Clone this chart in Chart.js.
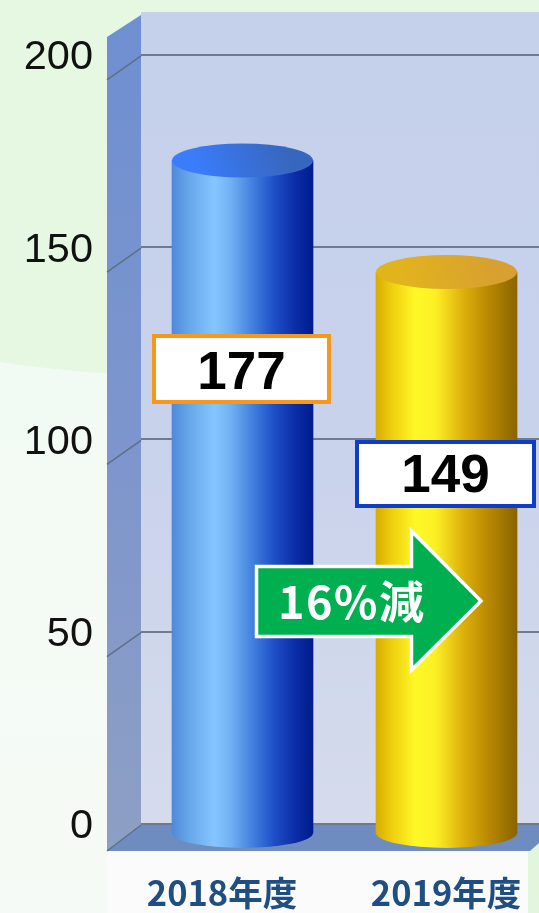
<!DOCTYPE html>
<html lang="ja"><head><meta charset="utf-8">
<style>html,body{margin:0;padding:0;background:#fff;overflow:hidden}canvas{display:block}</style>
<script src="https://cdn.jsdelivr.net/npm/chart.js@4"></script>
</head><body><canvas id="c" width="539" height="913"></canvas>
<script>
const categories = ['2018年度', '2019年度'];
const values = [177, 149];
const yTicks = [0, 50, 100, 150, 200];
const changeLabel = '16%減';

const bodyStops = [
  [[0,'#4F8ADA'],[.12,'#66A6EA'],[.30,'#85C6FF'],[.42,'#70B0F2'],[.58,'#3F7EDC'],[.72,'#1E50C8'],[.88,'#0A2CA6'],[1,'#001C8C']],
  [[0,'#D8AC00'],[.12,'#F0D010'],[.28,'#FFF828'],[.42,'#FCF025'],[.62,'#DDB00C'],[.78,'#BC8C00'],[1,'#8A6400']]
];
const capStops = [['#3A7CFA','#3766BE'],['#E2B41C','#D8A030']];
const boxBorders = ['#F7981D','#0F3CC9'];

function hGrad(ctx,x0,x1,stops){const g=ctx.createLinearGradient(x0,0,x1,0);stops.forEach(s=>g.addColorStop(s[0],s[1]));return g;}
function noPad(s){s.paddingTop=0;s.paddingBottom=0;s.paddingLeft=0;s.paddingRight=0;}

const scene = {
  id:'scene',
  beforeDraw(chart){
    const {ctx,chartArea:a,width:W,height:H}=chart;
    ctx.save();
    ctx.fillStyle='#E6F7E2';ctx.fillRect(0,0,W,H);
    let g=ctx.createLinearGradient(0,362,0,H);
    g.addColorStop(0,'#F2FBF3');g.addColorStop(1,'#F6FAF6');
    ctx.fillStyle=g;
    ctx.beginPath();ctx.moveTo(0,362);ctx.bezierCurveTo(40,368,80,372,120,374);ctx.lineTo(120,H);ctx.lineTo(0,H);ctx.closePath();ctx.fill();
    ctx.fillStyle='#FBFBFB';ctx.fillRect(107,851,423,62);
    ctx.fillStyle='#E2F6DE';ctx.fillRect(528,845,11,68);
    g=ctx.createLinearGradient(0,a.top,0,a.bottom);
    g.addColorStop(0,'#C5D0EB');g.addColorStop(.5,'#C8D2EB');g.addColorStop(1,'#D6DCEC');
    const floorY=chart.scales.y.getPixelForValue(0);
    ctx.fillStyle=g;ctx.fillRect(a.left,a.top-1,a.right-a.left,floorY-a.top+1);
    g=ctx.createLinearGradient(0,a.top,0,a.bottom);
    g.addColorStop(0,'#6E8FD2');g.addColorStop(.55,'#7E96CC');g.addColorStop(1,'#8E9FC4');
    ctx.fillStyle=g;ctx.beginPath();
    ctx.moveTo(107,37);ctx.lineTo(a.left,a.top+2);ctx.lineTo(a.left,floorY);ctx.lineTo(107,a.bottom);ctx.closePath();ctx.fill();
    ctx.fillStyle='#6E8CC0';ctx.beginPath();
    ctx.moveTo(a.left,floorY);ctx.lineTo(539,floorY);ctx.lineTo(539,843);ctx.lineTo(530,a.bottom);ctx.lineTo(107,a.bottom);ctx.closePath();ctx.fill();
    ctx.strokeStyle='#5F6F88';ctx.lineWidth=1.5;
    yTicks.forEach(v=>{const y=chart.scales.y.getPixelForValue(v);
      ctx.beginPath();ctx.moveTo(a.left,y+1);ctx.lineTo(107,y+(v===0?27:25));ctx.stroke();});
    ctx.restore();
  },
  afterDatasetsDraw(chart){
    const {ctx}=chart;
    const bars=chart.getDatasetMeta(0).data;
    ctx.save();
    bars.forEach((b,i)=>{
      const x0=b.x-b.width/2,x1=b.x+b.width/2,rx=b.width/2;
      ctx.fillStyle=hGrad(ctx,x0,x1,bodyStops[i]);
      ctx.beginPath();ctx.ellipse(b.x,b.base,rx,15,0,0,Math.PI);ctx.fill();
      const g=ctx.createLinearGradient(x0+rx*.4,b.y+16,x1-rx*.4,b.y-16);
      g.addColorStop(0,capStops[i][0]);g.addColorStop(1,capStops[i][1]);
      ctx.fillStyle=g;
      ctx.beginPath();ctx.ellipse(b.x,b.y,rx,17,0,0,Math.PI*2);ctx.fill();
    });
    const boxes=[[154,336,175,66,5],[357,442,177,64,3]];
    bars.forEach((b,i)=>{
      const [bx,by,bw,bh,dy]=boxes[i];
      ctx.fillStyle='#fff';ctx.fillRect(bx,by,bw,bh);
      ctx.strokeStyle=boxBorders[i];ctx.lineWidth=4;ctx.strokeRect(bx,by,bw,bh);
      ctx.fillStyle='#000';ctx.font='bold 53px "Liberation Sans"';
      ctx.textAlign='center';ctx.textBaseline='middle';
      ctx.fillText(String(values[i]),bx+bw/2,by+bh/2+dy);
    });
    ctx.beginPath();
    ctx.moveTo(256.5,566.5);ctx.lineTo(411.5,566.5);ctx.lineTo(411.5,531);ctx.lineTo(481,601);
    ctx.lineTo(411.5,670);ctx.lineTo(411.5,636.5);ctx.lineTo(256.5,636.5);ctx.closePath();
    ctx.fillStyle='#00B050';ctx.fill();
    ctx.strokeStyle='#fff';ctx.lineWidth=3.5;ctx.stroke();
    ctx.fillStyle='#fff';ctx.font='bold 45px "Noto Sans CJK JP"';
    ctx.letterSpacing='1.5px';ctx.textAlign='left';ctx.textBaseline='middle';
    ctx.fillText(changeLabel,278,602);
    ctx.restore();
  }
};

new Chart(document.getElementById('c'),{
  type:'bar',
  data:{datasets:[{
    data:values.map((v,i)=>({x:i,y:v})),
    yAxisID:'yBar',xAxisID:'x',
    base:8.04,
    barThickness:141,
    borderWidth:0,
    backgroundColor(ctx){
      if(ctx.type!=='data')return '#000';
      const c=ctx.chart,x=c.scales.x.getPixelForValue(ctx.dataIndex);
      if(!Number.isFinite(x))return '#000';
      return hGrad(c.ctx,x-70.5,x+70.5,bodyStops[ctx.dataIndex]);
    }
  }]},
  plugins:[scene],
  options:{
    responsive:false,animation:false,
    layout:{autoPadding:false,padding:{top:13,left:0,right:0,bottom:0}},
    plugins:{legend:{display:false},tooltip:{enabled:false}},
    scales:{
      x:{type:'linear',display:false,offset:false,min:-0.4975,max:1.4534,bounds:'data',grid:{offset:false}},
      xLabels:{
        type:'linear',position:'bottom',offset:false,min:-0.3616,max:1.415,bounds:'data',
        border:{display:false},grid:{display:false,drawTicks:false},
        afterBuildTicks(s){s.ticks=categories.map((_,i)=>({value:i}));},
        afterFit(s){s.height=62;noPad(s);},
        ticks:{autoSkip:false,maxRotation:0,padding:21,color:'#1F4E82',
          font:{family:'"Noto Sans CJK JP"',size:34.5,weight:'bold'},
          callback:v=>categories[v]}
      },
      y:{
        type:'linear',position:'left',min:-7.02,max:210.9,bounds:'data',
        border:{display:false},
        grid:{color:'#6E7B8F',lineWidth:2,drawTicks:false},
        afterBuildTicks(s){s.ticks=yTicks.map(v=>({value:v}));},
        afterFit(s){s.width=0;noPad(s);},
        ticks:{display:false}
      },
      yLabels:{
        type:'linear',position:'left',min:-6.24,max:211.68,bounds:'data',
        border:{display:false},
        grid:{drawOnChartArea:false,tickLength:48,tickColor:'rgba(0,0,0,0)'},
        afterBuildTicks(s){s.ticks=yTicks.map(v=>({value:v}));},
        afterFit(s){s.width=141;noPad(s);},
        ticks:{padding:0,color:'#111',font:{family:'"Liberation Sans"',size:41.5},callback:v=>String(v)}
      },
      yBar:{type:'linear',display:false,position:'left',min:3.52,max:214.07,bounds:'data'}
    }
  }
});
</script></body></html>
